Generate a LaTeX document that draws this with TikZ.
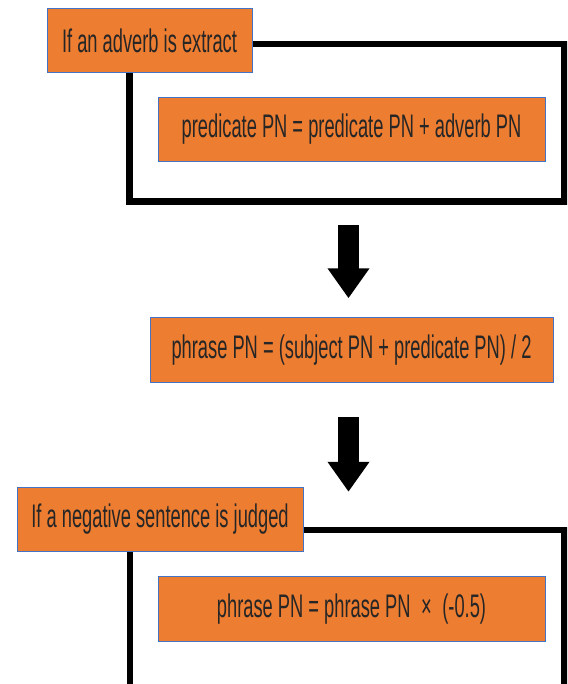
\documentclass[tikz,border=0pt]{standalone}
\usepackage{fontspec}
\setmainfont[FakeStretch=0.56]{Liberation Sans}
\usetikzlibrary{arrows.meta}
\definecolor{boxorange}{HTML}{ED7D31}
\definecolor{boxblue}{HTML}{4472C4}
\begin{document}
\begin{tikzpicture}[x=0.75pt,y=-0.75pt]
	\def \rowone{40.5}
	\def \rowtwo{129.25}
	\def \rowthree{350}
	\def \rowfour{519.5}
	\def \rowfive{608.75}
	\tikzstyle{o-node}=[draw=boxblue,line width=0.6pt,fill=boxorange,text=black!85,font=\fontsize{24.5}{27}\selectfont,text centered,inner sep=0pt,minimum height=48.5pt]
	\tikzstyle{frame}=[draw=black,line width=4.9pt]
	\tikzstyle{bigarrow}=[draw=black,line width=15.75pt,-{Triangle[length=22.5pt,width=30pt]}]
	\clip (0,0) rectangle (567,684);
	\fill[white] (0,0) rectangle (567,684);
	% frames
	\coordinate (f1nw) at (129.5,44);
	\coordinate (f1se) at (564.5,201.5);
	\coordinate (f2nw) at (130,530);
	\coordinate (f2se) at (564.5,720);
	\draw[frame] (f1nw) rectangle (f1se);
	\draw[frame] (f2nw) rectangle (f2se);
	% first condition
	\node[o-node,minimum width=153.75pt] 	(cond1)	at (149.5,\rowone)	{If an adverb is extract};
	\node[o-node,minimum width=290.25pt] 	(upd1)	at (351.5,\rowtwo)	{predicate PN = predicate PN + adverb PN};
	% phrase value
	\node[o-node,minimum width=302.25pt] 	(calc)	at (351.5,\rowthree)	{phrase PN = (subject PN + predicate PN) / 2};
	% second condition
	\node[o-node,minimum width=214.5pt] 	(cond2)	at (160,\rowfour)	{If a negative sentence is judged};
	\node[o-node,minimum width=290.25pt] 	(upd2)	at (351.5,\rowfive)	{phrase PN = phrase PN \,×\, (-0.5)};
	% arrows
	\coordinate (a1) at (348.5,225);
	\coordinate (a2) at (348.5,417);
	\draw[bigarrow,shorten >=14.25pt] (a1) -- (a1 |- calc.north);
	\draw[bigarrow,shorten >=-3.75pt] (a2) -- (a2 |- cond2.north);
\end{tikzpicture}
\end{document}
